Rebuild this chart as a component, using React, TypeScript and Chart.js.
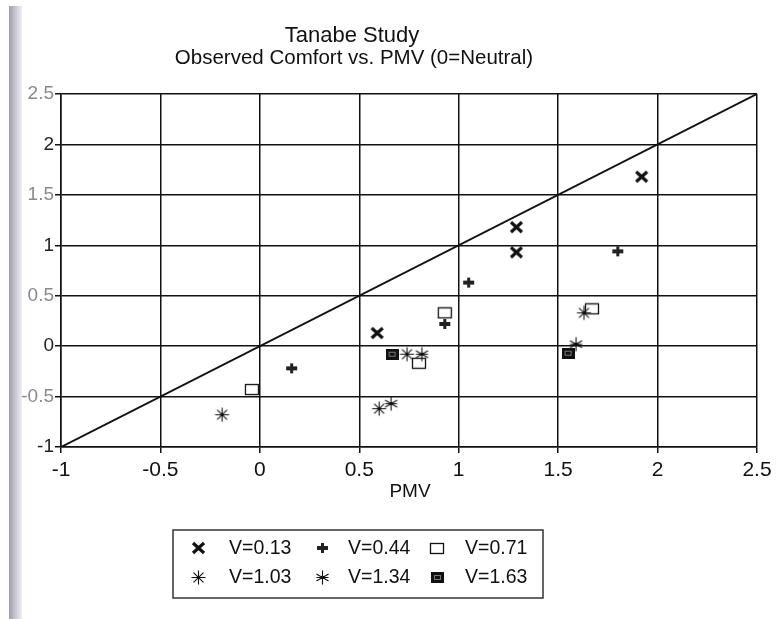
import React, { useEffect, useRef } from "react";
import { Chart, registerables } from "chart.js";

Chart.register(...registerables);

const TITLE = "Tanabe Study";
const SUBTITLE = "Observed Comfort vs. PMV (0=Neutral)";
const X_TITLE = "PMV";

const AXIS_TICKS = [-1, -0.5, 0, 0.5, 1, 1.5, 2, 2.5];
const X_TICK_LABELS = ["-1", "-0.5", "0", "0.5", "1", "1.5", "2", "2.5"];
const Y_TICK_LABELS = ["-1", "-0.5", "0", "0.5", "1", "1.5", "2", "2.5"];

const SERIES_NAMES = ["V=0.13", "V=0.44", "V=0.71", "V=1.03", "V=1.34", "V=1.63"];

const V013_X = [0.59, 1.29, 1.29, 1.92];
const V013_Y = [0.13, 1.18, 0.93, 1.68];

const V044_X = [0.16, 1.05, 0.93, 1.8];
const V044_Y = [-0.22, 0.63, 0.22, 0.94];

const V071_X = [-0.04, 0.93, 0.8, 1.67];
const V071_Y = [-0.43, 0.33, -0.17, 0.37];

const V103_X = [-0.19, 0.6, 0.74, 1.63];
const V103_Y = [-0.68, -0.62, -0.08, 0.33];

const V134_X = [0.66, 0.815, 1.59];
const V134_Y = [-0.57, -0.08, 0.02];

const V163_X = [0.665, 1.55];
const V163_Y = [-0.08, -0.07];

const NEUTRAL_X = [-1, 2.5];
const NEUTRAL_Y = [-1, 2.5];

const FONT = "'Liberation Sans', Arial, Helvetica, sans-serif";
const INK = "#111";

function makeCanvas(w: number, h: number, draw: (g: CanvasRenderingContext2D) => void) {
  const c = document.createElement("canvas");
  c.width = w;
  c.height = h;
  const g = c.getContext("2d")!;
  draw(g);
  return c;
}

function makeMarkers() {
  const xMark = makeCanvas(15, 14, (g) => {
    g.strokeStyle = INK;
    g.lineWidth = 3.2;
    g.beginPath();
    g.moveTo(2, 2);
    g.lineTo(13, 12);
    g.moveTo(13, 2);
    g.lineTo(2, 12);
    g.stroke();
  });
  const plus = makeCanvas(13, 12, (g) => {
    g.fillStyle = "#222";
    g.fillRect(1, 4, 11, 4);
    g.fillRect(5, 1, 3, 10);
  });
  const openSq = makeCanvas(16, 13, (g) => {
    g.strokeStyle = INK;
    g.lineWidth = 1.3;
    g.strokeRect(1.5, 1.5, 13, 10);
  });
  const star = makeCanvas(17, 17, (g) => {
    g.strokeStyle = INK;
    g.lineWidth = 1.1;
    const c = 8.5;
    g.beginPath();
    for (let i = 0; i < 4; i++) {
      const a = (i * Math.PI) / 4;
      const r = 7;
      g.moveTo(c + r * Math.cos(a), c + r * Math.sin(a));
      g.lineTo(c - r * Math.cos(a), c - r * Math.sin(a));
    }
    g.stroke();
    g.fillStyle = INK;
    g.fillRect(c - 1.5, c - 1.5, 3, 3);
  });
  const star6 = makeCanvas(17, 17, (g) => {
    g.strokeStyle = INK;
    g.lineWidth = 1.1;
    const c = 8.5;
    g.beginPath();
    for (let i = 0; i < 3; i++) {
      const a = Math.PI / 2 + (i * Math.PI) / 3;
      const r = 7;
      g.moveTo(c + r * Math.cos(a), c + r * Math.sin(a));
      g.lineTo(c - r * Math.cos(a), c - r * Math.sin(a));
    }
    g.moveTo(c - 6, c);
    g.lineTo(c + 6, c);
    g.stroke();
    g.fillStyle = INK;
    g.fillRect(c - 1.5, c - 1.5, 3, 3);
  });
  const fillSq = makeCanvas(13, 11, (g) => {
    g.fillStyle = INK;
    g.fillRect(0, 0, 13, 11);
    g.strokeStyle = "#777";
    g.lineWidth = 1;
    g.strokeRect(3.5, 3.5, 6, 4);
  });
  return [xMark, plus, openSq, star, star6, fillSq];
}

function pts(xs: number[], ys: number[]) {
  return xs.map((x, i) => ({ x, y: ys[i] }));
}

export default function App() {
  const ref = useRef<HTMLCanvasElement | null>(null);

  useEffect(() => {
    if (!ref.current) return;
    const markers = makeMarkers();
    const seriesData = [
      pts(V013_X, V013_Y),
      pts(V044_X, V044_Y),
      pts(V071_X, V071_Y),
      pts(V103_X, V103_Y),
      pts(V134_X, V134_Y),
      pts(V163_X, V163_Y),
    ];
    const mk = (i: number) => ({
      label: SERIES_NAMES[i],
      data: seriesData[i],
      pointStyle: markers[i] as any,
      pointRadius: 7,
      showLine: false,
    });
    // first dataset is drawn on top
    const datasets: any[] = [mk(3), mk(4), mk(0), mk(1), mk(2), mk(5)];
    datasets.push({
      label: "neutral",
      data: pts(NEUTRAL_X, NEUTRAL_Y),
      showLine: true,
      borderColor: INK,
      borderWidth: 2,
      pointRadius: 0,
      fill: false,
    });

    const overlay = {
      id: "overlay",
      afterDraw(chart: any) {
        const g: CanvasRenderingContext2D = chart.ctx;
        g.save();
        g.fillStyle = INK;
        g.textAlign = "center";
        g.textBaseline = "middle";
        g.font = `22px ${FONT}`;
        g.fillText(TITLE, 352, 36);
        g.font = `20.5px ${FONT}`;
        g.fillText(SUBTITLE, 354, 58);
        g.font = `19px ${FONT}`;
        g.fillText(X_TITLE, 410, 492);

        // legend box
        g.strokeStyle = "#333";
        g.lineWidth = 1.5;
        g.strokeRect(173, 530, 370, 68);
        const symX = [198, 322, 437];
        const txtX = [229, 348, 465];
        const rowY = [548, 577];
        g.font = `19.5px ${FONT}`;
        g.textAlign = "left";
        for (let i = 0; i < SERIES_NAMES.length; i++) {
          const col = i % 3;
          const row = Math.floor(i / 3);
          const m = markers[i];
          g.drawImage(m, Math.round(symX[col] - m.width / 2), Math.round(rowY[row] - m.height / 2));
          g.fillText(SERIES_NAMES[i], txtX[col], rowY[row] + 1);
        }
        g.restore();
      },
    };

    const yFaded = new Set([2.5, 1.5, 0.5, -0.5]);

    const chart = new Chart(ref.current, {
      type: "scatter",
      data: { datasets },
      options: {
        animation: false,
        responsive: false,
        events: [],
        layout: { padding: { top: 94, right: 22, left: 0, bottom: 0 } },
        plugins: {
          legend: { display: false },
          title: { display: false },
          tooltip: { enabled: false },
        },
        scales: {
          x: {
            type: "linear",
            min: -1,
            max: 2.5,
            afterBuildTicks: (s: any) => {
              s.ticks = AXIS_TICKS.map((v) => ({ value: v }));
            },
            afterFit: (s: any) => {
              s.height = 172;
            },
            ticks: {
              callback: (_v: any, i: number) => X_TICK_LABELS[i],
              font: { family: FONT, size: 21 },
              color: INK,
              padding: 5,
              maxRotation: 0,
              autoSkip: false,
            },
            grid: { color: INK, lineWidth: 1.5, tickLength: 6, tickColor: INK },
            border: { display: true, color: INK, width: 1.5 },
          },
          y: {
            type: "linear",
            min: -1,
            max: 2.5,
            afterBuildTicks: (s: any) => {
              s.ticks = AXIS_TICKS.map((v) => ({ value: v }));
            },
            afterFit: (s: any) => {
              s.width = 61;
            },
            ticks: {
              callback: (_v: any, i: number) => Y_TICK_LABELS[i],
              font: { family: FONT, size: 19 },
              color: (c: any) => (yFaded.has(c.tick?.value) ? "#8a8a8a" : "#222"),
              padding: 1,
              autoSkip: false,
            },
            grid: { color: INK, lineWidth: 1.5, tickLength: 6, tickColor: INK },
            border: { display: true, color: INK, width: 1.5 },
          },
        },
      },
      plugins: [overlay],
    });
    return () => chart.destroy();
  }, []);

  return (
    <div style={{ position: "fixed", left: 0, top: 0, width: 779, height: 619, background: "#fff" }}>
      <div
        style={{
          position: "absolute",
          left: 9,
          top: 6,
          width: 13,
          height: 613,
          background: "linear-gradient(to right, #9c9cab, #c4c4d0 45%, #eeeef3 100%)",
        }}
      />
      <canvas ref={ref} width={779} height={619} style={{ position: "absolute", left: 0, top: 0, display: "block" }} />
    </div>
  );
}
